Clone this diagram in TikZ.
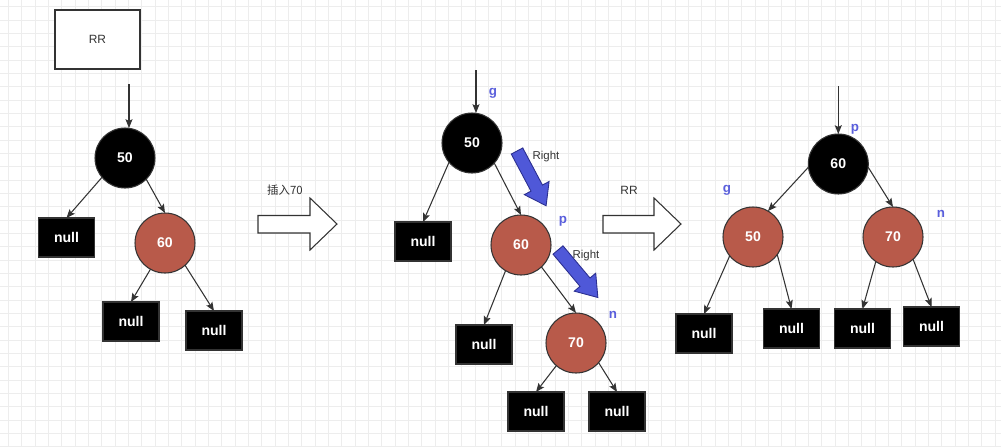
\documentclass[tikz,border=0pt]{standalone}
\usepackage{fontspec}
\setmainfont{Liberation Sans}
\newfontfamily\cjk{Noto Sans CJK SC}
\usetikzlibrary{arrows.meta}
\definecolor{gridc}{HTML}{EDEDED}
\definecolor{redn}{HTML}{B85A4A}
\definecolor{bluet}{HTML}{5A5FDC}
\definecolor{bluef}{HTML}{4F58D8}
\definecolor{blued}{HTML}{2B2F90}
\definecolor{edgec}{HTML}{333333}
\tikzset{
  blk/.style={circle, draw=edgec, fill=black, line width=0.6pt, minimum size=1.2cm, inner sep=0pt, outer sep=0pt, text=white, font=\fontsize{8}{9}\selectfont\bfseries},
  rd/.style={blk, fill=redn},
  nul/.style={rectangle, draw=edgec, fill=black, line width=0.6pt, minimum width=1.12cm, minimum height=0.78cm, inner sep=0pt, outer sep=0pt, text=white, font=\fontsize{8}{9}\selectfont\bfseries},
  edge/.style={draw=edgec, line width=0.6pt, -{Stealth[length=5pt,width=4pt,inset=1pt]}},
  lbl/.style={text=bluet, font=\fontsize{7.6}{9}\selectfont\bfseries, inner sep=0pt},
  gtxt/.style={text=edgec, font=\fontsize{6.5}{8}\selectfont, inner sep=0pt},
  hollow/.style={draw=edgec, fill=white, line width=0.6pt},
  barrow/.style={draw=blued, fill=bluef, line width=0.5pt},
}
\begin{document}
\begin{tikzpicture}[x=0.02cm, y=-0.02cm]
\useasboundingbox (0,0) rectangle (1001,447);
\fill[white] (0,0) rectangle (1001,447);
% grid
\foreach \i in {0,...,75} {\draw[gridc, line width=0.5pt] (8.3+13.333*\i,0) -- ++(0,447);}
\foreach \i in {0,...,33} {\draw[gridc, line width=0.5pt] (0,6.67+13.333*\i) -- ++(1001,0);}

% ---------- Tree 1 ----------
\node[rectangle, draw=edgec, fill=white, line width=0.6pt, minimum width=1.7cm, minimum height=1.18cm, text=edgec, font=\fontsize{6.8}{8}\selectfont] (rr) at (97.5,39.5) {RR};
\coordinate (t1top) at (129,84);
\node[blk] (a50) at (125,158) {50};
\node[nul] (a1) at (66.5,237.5) {null};
\node[rd] (a60) at (165,243) {60};
\node[nul] (a2) at (131,321.5) {null};
\node[nul] (a3) at (214,330.5) {null};
\draw[edge] (t1top) -- (t1top |- a50.north);
\draw[edge] (a50.220) -- (a1.north);
\draw[edge] (a50.-45) -- (a60.north);
\draw[edge] (a60.241) -- (a2.north);
\draw[edge] (a60.-48) -- (a3.north);

% hollow arrow 1
\draw[hollow] (258,215.5) -- (310,215.5) -- (310,198) -- (337,224) -- (310,250) -- (310,233) -- (258,233) -- cycle;
\node[gtxt, font=\fontsize{6.5}{8}\selectfont\cjk] (ins) at (285,190) {插入70};

% ---------- Tree 2 ----------
\coordinate (t2top) at (476,70);
\node[blk] (b50) at (472,143) {50};
\node[nul] (b1) at (423,241.5) {null};
\node[rd] (b60) at (521,245) {60};
\node[nul] (b2) at (484,344.5) {null};
\node[rd] (b70) at (576,343) {70};
\node[nul] (b3) at (536,411.5) {null};
\node[nul] (b4) at (617,411.5) {null};
\draw[edge] (t2top) -- (t2top |- b50.north);
\draw[edge] (b50.220) -- (b1.north);
\draw[edge] (b50.-42) -- (b60.north);
\draw[edge] (b60.239) -- (b2.north);
\draw[edge] (b60.-47) -- (b70.north);
\draw[edge] (b70.229) -- (b3.north);
\draw[edge] (b70.-41) -- (b4.north);
\node[lbl] (bg) at (493,93) {g};
\node[lbl] (bp) at (563,221) {p};
\node[lbl] (bn) at (613,315) {n};

% blue arrows
\begin{scope}[shift={(517,151)}, rotate=-62]
\draw[barrow] (0,-6.5) -- (42,-6.5) -- (42,-14) -- (62,0) -- (42,14) -- (42,6.5) -- (0,6.5) -- cycle;
\end{scope}
\node[gtxt] (r1) at (546,157) {Right};
\begin{scope}[shift={(558,250)}, rotate=-50]
\draw[barrow] (0,-6.5) -- (42,-6.5) -- (42,-14) -- (62,0) -- (42,14) -- (42,6.5) -- (0,6.5) -- cycle;
\end{scope}
\node[gtxt] (r2) at (586,256) {Right};

% hollow arrow 2
\draw[hollow] (603,215.5) -- (654,215.5) -- (654,198) -- (681,224) -- (654,250) -- (654,233) -- (603,233) -- cycle;
\node[gtxt, font=\fontsize{6.8}{8}\selectfont] (rr2) at (629,190) {RR};

% ---------- Tree 3 ----------
\coordinate (t3top) at (838.3,86);
\node[blk] (c60) at (838.3,164) {60};
\node[rd] (c50) at (753,237) {50};
\node[rd] (c70) at (893,237) {70};
\node[nul] (c1) at (704,333.5) {null};
\node[nul] (c2) at (791.5,328.5) {null};
\node[nul] (c3) at (862.5,328.5) {null};
\node[nul] (c4) at (931.5,326.5) {null};
\draw[edge] (t3top) -- (c60.north);
\draw[edge] (c60.186) -- (c50.60);
\draw[edge] (c60.-6) -- (c70.north);
\draw[edge] (c50.219) -- (c1.north);
\draw[edge] (c50.-36) -- (c2.north);
\draw[edge] (c70.235) -- (c3.north);
\draw[edge] (c70.-48) -- (c4.north);
\node[lbl] (cp) at (855,129) {p};
\node[lbl] (cg) at (727,190) {g};
\node[lbl] (cn) at (941,214) {n};
\end{tikzpicture}
\end{document}
